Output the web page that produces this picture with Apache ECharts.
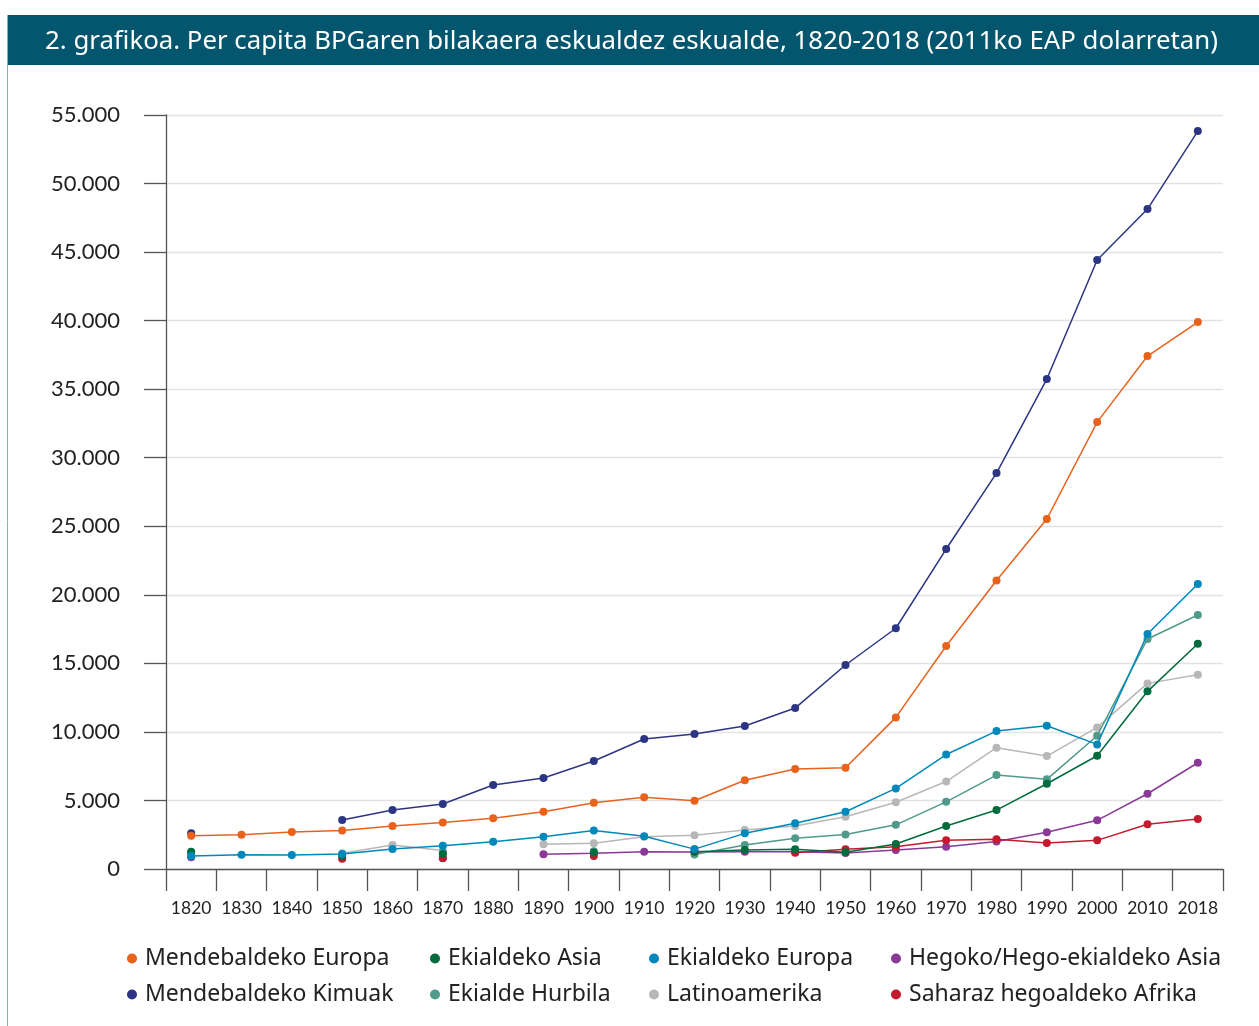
<!DOCTYPE html>
<html>
<head>
<meta charset="utf-8">
<script src="https://cdn.jsdelivr.net/npm/echarts@6/dist/echarts.min.js"></script>
<style>
html,body{margin:0;padding:0;background:#fff;}
#c{width:1259px;height:1026px;}
</style>
</head>
<body>
<div id="c"></div>
<script>
const titleText = '2. grafikoa. Per capita BPGaren bilakaera eskualdez eskualde, 1820-2018 (2011ko EAP dolarretan)';
const years = ['1820','1830','1840','1850','1860','1870','1880','1890','1900','1910','1920','1930','1940','1950','1960','1970','1980','1990','2000','2010','2018'];

const mendebaldekoEuropa = [2430, 2500, 2700, 2800, 3130, 3400, 3700, 4180, 4840, 5230, 4980, 6470, 7290, 7390, 11060, 16270, 21040, 25530, 32600, 37420, 39900];
const mendebaldekoKimuak = [2600, null, null, 3570, 4300, 4740, 6130, 6640, 7880, 9480, 9850, 10430, 11740, 14880, 17560, 23340, 28880, 35740, 44420, 48140, 53830];
const ekialdekoEuropa = [950, 1040, 1020, 1100, 1460, 1690, 1990, 2350, 2800, 2390, 1450, 2600, 3330, 4180, 5880, 8350, 10060, 10450, 9090, 17140, 20790];
const latinoamerika = [null, null, null, 1150, 1750, 1350, null, 1800, 1880, 2350, 2470, 2850, 3140, 3810, 4870, 6380, 8850, 8240, 10330, 13540, 14170];
const ekialdeHurbila = [1150, null, null, null, null, 1200, null, null, 1300, null, 1050, 1750, 2250, 2510, 3220, 4900, 6850, 6540, 9720, 16780, 18530];
const ekialdekoAsia = [1250, null, null, 950, null, 1100, null, null, 1200, null, 1250, 1390, 1440, 1230, 1820, 3140, 4300, 6220, 8260, 12960, 16430];
const hegoAsia = [850, null, null, null, null, 780, null, 1070, 1150, 1250, 1240, 1250, 1250, 1160, 1390, 1630, 2000, 2680, 3550, 5490, 7750];
const saharaz = [null, null, null, 750, null, 800, null, null, 950, null, null, null, 1190, 1440, 1620, 2090, 2170, 1900, 2090, 3260, 3650];

const yTicks = [0, 5000, 10000, 15000, 20000, 25000, 30000, 35000, 40000, 45000, 50000, 55000];

const seriesDefs = [
  {name:'Mendebaldeko Europa', data: mendebaldekoEuropa, color:'#E8621C'},
  {name:'Mendebaldeko Kimuak', data: mendebaldekoKimuak, color:'#2B3584'},
  {name:'Ekialdeko Asia', data: ekialdekoAsia, color:'#006B3C'},
  {name:'Ekialde Hurbila', data: ekialdeHurbila, color:'#4F9A8A'},
  {name:'Ekialdeko Europa', data: ekialdekoEuropa, color:'#0088BA'},
  {name:'Latinoamerika', data: latinoamerika, color:'#B7B7B7'},
  {name:'Hegoko/Hego-ekialdeko Asia', data: hegoAsia, color:'#8A3A96'},
  {name:'Saharaz hegoaldeko Afrika', data: saharaz, color:'#C41A2E'}
];
// draw order (later on top)
const drawOrder = ['Hegoko/Hego-ekialdeko Asia','Saharaz hegoaldeko Afrika','Latinoamerika','Ekialde Hurbila','Ekialdeko Asia','Ekialdeko Europa','Mendebaldeko Kimuak','Mendebaldeko Europa'];

const FONT = 'Lato';
const FONT2 = '"Noto Sans"';
const fmt = v => String(v).replace(/\B(?=(\d{3})+(?!\d))/g, '.');

const chart = echarts.init(document.getElementById('c'), null, {renderer:'canvas'});

const legendCols = [
  {left:122, names:['Mendebaldeko Europa','Mendebaldeko Kimuak']},
  {left:425, names:['Ekialdeko Asia','Ekialde Hurbila']},
  {left:644, names:['Ekialdeko Europa','Latinoamerika']},
  {left:886, names:['Hegoko/Hego-ekialdeko Asia','Saharaz hegoaldeko Afrika']}
];

const option = {
  animation:false,
  textStyle:{fontFamily:FONT},
  graphic:[
    {type:'rect', shape:{x:7, y:15, width:1252, height:50}, style:{fill:'#04566F'}, z:10},
    {type:'line', shape:{x1:7.5, y1:15, x2:7.5, y2:1026}, style:{stroke:'#86AFC0', lineWidth:1}, z:10},
    {type:'text', left:45, top:29, style:{text:titleText, fill:'#ffffff', font:'25.8px ' + FONT2}, z:11}
  ],
  legend: legendCols.map(c => ({
    left:c.left, top:942, orient:'vertical', itemGap:13,
    icon:'circle', itemWidth:10, itemHeight:10,
    data:c.names,
    textStyle:{fontSize:23, color:'#222', fontFamily:FONT2, padding:[0,0,0,3]}
  })),
  grid:{left:166, right:36, top:115, bottom:157, containLabel:false},
  xAxis:{
    type:'category', data:years, boundaryGap:true,
    axisLine:{show:true, lineStyle:{color:'#555', width:1.3}},
    axisTick:{show:true, length:22, alignWithLabel:false, lineStyle:{color:'#555', width:1.3}},
    axisLabel:{color:'#222', fontSize:17.5, margin:30, interval:0, fontFamily:FONT}
  },
  yAxis:{
    type:'value', min:0, max:55000, interval:5000,
    axisLine:{show:true, lineStyle:{color:'#555', width:1.3}},
    axisTick:{show:true, length:22, lineStyle:{color:'#555', width:1.3}},
    axisLabel:{color:'#222', fontSize:22, margin:46, formatter:v => fmt(v), fontFamily:FONT},
    splitLine:{show:true, lineStyle:{color:'#E3E3E3', width:1.3}}
  },
  series: drawOrder.map((n, i) => {
    const d = seriesDefs.find(s => s.name === n);
    return {
      name:d.name, type:'line', data:d.data, connectNulls:false,
      symbol:'circle', symbolSize:8, showSymbol:true,
      itemStyle:{color:d.color}, lineStyle:{color:d.color, width:1.5},
      z:2+i
    };
  })
};
chart.setOption(option);
</script>
</body>
</html>
